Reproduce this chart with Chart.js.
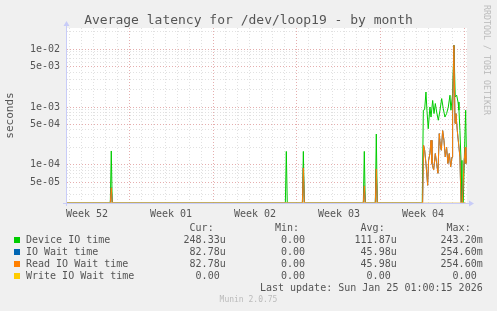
<!DOCTYPE html>
<html lang="en">
<head>
<meta charset="UTF-8">
<title>Average latency for /dev/loop19 - by month</title>
<script src="https://cdn.jsdelivr.net/npm/chart.js"></script>
<style>
  body { margin: 0; background: #f0f0f0; }
  #wrap { position: relative; width: 497px; height: 311px; overflow: hidden;
          font-family: "DejaVu Sans Mono", monospace; color: #555; }
  #wrap canvas { position: absolute; left: 0; top: 0; }
  .t { position: absolute; white-space: pre; font-size: 10px; line-height: 12px; }
  .box { position: absolute; width: 6px; height: 6px; }
</style>
</head>
<body>
<div id="wrap">
  <canvas id="latencyChart" width="497" height="311"></canvas>
  <div class="t" style="left:0;width:497px;top:12px;font-size:13px;line-height:15px;text-align:center;">Average latency for /dev/loop19 - by month</div>
  <div class="t" style="left:492px;top:5px;font-size:8.3px;line-height:10px;color:#bbb;transform-origin:0 0;transform:rotate(90deg);">RRDTOOL / TOBI OETIKER</div>
  <div id="legend"></div>
  <div class="t" style="right:14.3px;top:282px;">Last update: Sun Jan 25 01:00:15 2026</div>
  <div class="t" style="left:0;width:497px;top:295px;font-size:8px;line-height:10px;text-align:center;color:#bbb;">Munin 2.0.75</div>
</div>
<script>
// x values are days since Mon Dec 29 2025 (start of week 01)
const xMin = -5.17;
const xMax = 28.17;
const weekCenters = [-3.5, 3.5, 10.5, 17.5, 24.5];
const weekLabels = ['Week 52', 'Week 01', 'Week 02', 'Week 03', 'Week 04'];

// Device IO time (seconds)
const deviceDays = [-5.17, -1.56, -1.48, -1.40, 13.03, 13.11, 13.19, 14.45, 14.53, 14.61,
  19.53, 19.61, 19.69, 20.53, 20.61, 20.69,
  24.44, 24.53, 24.64, 24.75, 24.83, 24.94, 25.08, 25.17, 25.31, 25.42, 25.53, 25.64,
  25.78, 25.92, 26.06, 26.19, 26.33, 26.47, 26.61, 26.75, 26.83, 26.97, 27.08, 27.19,
  27.31, 27.42, 27.50, 27.58, 27.67, 27.75, 27.86, 27.97, 28.06, 28.11];
const deviceValues = [0, 0, 1.73e-4, 0, 0, 1.7e-4, 0, 0, 1.7e-4, 0,
  0, 1.7e-4, 0, 0, 3.4e-4, 0,
  0, 8.8e-4, 9.0e-4, 1.82e-3, 8.8e-4, 4.2e-4, 1.0e-3, 6.7e-4, 1.3e-3, 7.7e-4, 1.15e-3, 8.2e-4,
  5.9e-4, 8.8e-4, 1.4e-3, 9.4e-4, 6.7e-4, 7.7e-4, 1.0e-3, 1.6e-3, 8.8e-4, 1.7e-3, 1.17e-2, 1.5e-3,
  1.6e-3, 1.22e-3, 8.8e-4, 3.9e-4, 1.19e-4, 0, 0, 2.0e-4, 8.8e-4, 2.0e-4];

// Read IO Wait time (seconds); IO Wait time is the same series
const readDays = [-5.17, -1.56, -1.48, -1.40, 14.45, 14.53, 14.61,
  19.53, 19.61, 19.69, 20.53, 20.61, 20.69,
  24.47, 24.55, 24.64, 24.75, 24.89, 24.97, 25.08, 25.17, 25.25, 25.39, 25.53, 25.64,
  25.75, 25.86, 25.94, 26.03, 26.14, 26.25, 26.36, 26.47, 26.58, 26.69, 26.81, 26.92,
  26.97, 27.08, 27.17, 27.25, 27.36, 27.47, 27.58, 27.67, 27.78, 27.92, 28.03, 28.08];
const readValues = [0, 0, 4.0e-5, 0, 0, 8.8e-5, 0,
  0, 4.3e-5, 0, 0, 8.4e-5, 0,
  0, 2.17e-4, 1.78e-4, 1.05e-4, 4.4e-5, 1.19e-4, 1.56e-4, 2.65e-4, 1.05e-4, 8.1e-5, 1.56e-4, 1.05e-4,
  7.1e-5, 3.46e-4, 2.2e-4, 1.78e-4, 3.9e-4, 2.65e-4, 1.36e-4, 2.0e-4, 1.05e-4, 1.56e-4, 9.2e-5, 1.36e-4,
  7.7e-4, 1.17e-2, 5.2e-4, 7.7e-4, 3.9e-4, 2.3e-4, 1.36e-4, 0, 0, 1.05e-4, 2.0e-4, 1.05e-4];
const ioWaitDays = readDays;
const ioWaitValues = readValues;

// Write IO Wait time (seconds)
const writeDays = [-5.17, 28.10];
const writeValues = [0, 0];

// legend table
const seriesNames = ['Device IO time', 'IO Wait time', 'Read IO Wait time', 'Write IO Wait time'];
const seriesColors = ['#00cc00', '#0066b3', '#ff8000', '#ffcc00'];
const curText = ['248.33u', '82.78u', '82.78u', '0.00 '];
const minText = ['0.00 ', '0.00 ', '0.00 ', '0.00 '];
const avgText = ['111.87u', '45.98u', '45.98u', '0.00 '];
const maxText = ['243.20m', '254.60m', '254.60m', '0.00 '];

const yMin = 2.17e-5;
const yMax = 2.34e-2;

// a zero cannot sit on a log axis: like rrdtool, pin it to the axis floor
function pts(xs, ys) {
    return xs.map((x, i) => ({ x: x, y: ys[i] > 0 ? ys[i] : yMin }));
}

// legend (html text)
const legend = document.getElementById('legend');
function addText(txt, rightEdge, top) {
    const d = document.createElement('div');
    d.className = 't';
    d.style.right = (497 - rightEdge) + 'px';
    d.style.top = top + 'px';
    d.textContent = txt;
    legend.appendChild(d);
}
const colEdges = [225.7, 311, 396.7, 482.7];
['Cur:  ', 'Min:  ', 'Avg:  ', 'Max:  '].forEach((h, i) => addText(h, colEdges[i], 222));
seriesNames.forEach((name, i) => {
    const top = 234 + i * 12;
    const b = document.createElement('div');
    b.className = 'box';
    b.style.left = '14px';
    b.style.top = (top + 2.5) + 'px';
    b.style.background = seriesColors[i];
    legend.appendChild(b);
    const l = document.createElement('div');
    l.className = 't';
    l.style.left = '26px';
    l.style.top = top + 'px';
    l.textContent = name;
    legend.appendChild(l);
    addText(curText[i], colEdges[0], top);
    addText(minText[i], colEdges[1], top);
    addText(avgText[i], colEdges[2], top);
    addText(maxText[i], colEdges[3], top);
});

function mantissa(v) {
    const e = Math.floor(Math.log10(v) + 1e-9);
    return { m: Math.round(v / Math.pow(10, e)), e: e };
}

const gridRed = 'rgba(225,160,160,0.85)';
const gridGrey = 'rgba(215,215,215,0.75)';

const plotBg = {
    id: 'plotBg',
    beforeDraw(chart) {
        const a = chart.chartArea;
        const ctx = chart.ctx;
        ctx.save();
        ctx.fillStyle = '#ffffff';
        ctx.fillRect(a.left, a.top, a.right - a.left, a.bottom - a.top);
        ctx.restore();
    },
    afterDraw(chart) {
        const a = chart.chartArea;
        const ctx = chart.ctx;
        ctx.save();
        ctx.strokeStyle = '#c8ccf8';
        ctx.fillStyle = '#c8ccf8';
        ctx.lineWidth = 1;
        ctx.beginPath();
        ctx.moveTo(a.left - 0.5, a.bottom + 3);
        ctx.lineTo(a.left - 0.5, a.top - 3);
        ctx.moveTo(a.right + 0.5, a.bottom + 0.5);
        ctx.lineTo(a.right + 3, a.bottom + 0.5);
        ctx.stroke();
        ctx.beginPath();
        ctx.moveTo(a.left - 0.5, a.top - 7);
        ctx.lineTo(a.left - 3.5, a.top - 2);
        ctx.lineTo(a.left + 2.5, a.top - 2);
        ctx.closePath();
        ctx.fill();
        ctx.beginPath();
        ctx.moveTo(a.right + 7, a.bottom + 0.5);
        ctx.lineTo(a.right + 2, a.bottom - 2.5);
        ctx.lineTo(a.right + 2, a.bottom + 3.5);
        ctx.closePath();
        ctx.fill();
        ctx.restore();
    },
    beforeDatasetsDraw(chart) {
        // x axis line sits under the series, as in rrdtool
        const a = chart.chartArea;
        const ctx = chart.ctx;
        ctx.save();
        ctx.strokeStyle = '#c8ccf8';
        ctx.lineWidth = 1;
        ctx.beginPath();
        ctx.moveTo(a.left - 4, a.bottom + 0.5);
        ctx.lineTo(a.right + 1, a.bottom + 0.5);
        ctx.stroke();
        ctx.restore();
    }
};

Chart.defaults.font.family = '"DejaVu Sans Mono", monospace';
Chart.defaults.font.size = 10;
Chart.defaults.color = '#555';

const ctx = document.getElementById('latencyChart').getContext('2d');
const chart = new Chart(ctx, {
    type: 'line',
    data: {
        datasets: [
            { label: seriesNames[0], data: pts(deviceDays, deviceValues), borderColor: seriesColors[0], order: 4 },
            { label: seriesNames[1], data: pts(ioWaitDays, ioWaitValues), borderColor: seriesColors[1], order: 3 },
            { label: seriesNames[2], data: pts(readDays, readValues), borderColor: seriesColors[2], order: 2 },
            { label: seriesNames[3], data: pts(writeDays, writeValues), borderColor: 'rgba(230,200,120,1)', order: 1 }
        ]
    },
    options: {
        responsive: false,
        animation: false,
        devicePixelRatio: 1,
        layout: { padding: { left: 0, top: 28, right: 30, bottom: 88 } },
        elements: {
            line: { borderWidth: 1, tension: 0, fill: false },
            point: { radius: 0, hoverRadius: 0 }
        },
        plugins: {
            legend: { display: false },
            tooltip: { enabled: false },
            title: { display: false }
        },
        scales: {
            x: {
                type: 'linear',
                min: xMin,
                max: xMax,
                afterFit: s => { s.height = 20; },
                afterBuildTicks: s => {
                    const t = [];
                    for (let d = -5; d <= 28; d++) t.push({ value: d });
                    weekCenters.forEach(v => t.push({ value: v }));
                    t.sort((a, b) => a.value - b.value);
                    s.ticks = t;
                },
                ticks: {
                    autoSkip: false,
                    maxRotation: 0,
                    padding: 5,
                    callback: v => {
                        const i = weekCenters.indexOf(v);
                        return i >= 0 ? weekLabels[i] : '';
                    }
                },
                grid: {
                    drawTicks: false,
                    lineWidth: 1,
                    color: c => {
                        const v = c.tick ? c.tick.value : 0;
                        if (weekCenters.indexOf(v) >= 0) return 'rgba(0,0,0,0)';
                        return v % 7 === 0 ? gridRed : gridGrey;
                    }
                },
                border: { display: false, dash: [1, 2] }
            },
            y: {
                type: 'logarithmic',
                min: yMin,
                max: yMax,
                afterFit: s => { s.width = 67; },
                afterBuildTicks: s => {
                    const t = [];
                    for (let e = -5; e <= -2; e++) {
                        for (let m = 1; m <= 9; m++) {
                            const v = m * Math.pow(10, e);
                            if (v >= yMin && v <= yMax) t.push({ value: v });
                        }
                    }
                    s.ticks = t;
                },
                ticks: {
                    autoSkip: false,
                    padding: 7,
                    callback: v => {
                        const r = mantissa(v);
                        if (r.m !== 1 && r.m !== 5) return '';
                        return r.m + 'e-' + String(-r.e).padStart(2, '0');
                    }
                },
                grid: {
                    drawTicks: false,
                    lineWidth: 1,
                    color: c => {
                        if (!c.tick) return gridGrey;
                        const r = mantissa(c.tick.value);
                        return (r.m === 1 || r.m === 5) ? gridRed : gridGrey;
                    }
                },
                border: { display: false, dash: [1, 2] },
                title: {
                    display: true,
                    text: 'seconds',
                    font: { size: 11 },
                    color: '#555',
                    padding: { top: 4, bottom: 0 }
                }
            }
        }
    },
    plugins: [plotBg]
});
</script>
</body>
</html>
